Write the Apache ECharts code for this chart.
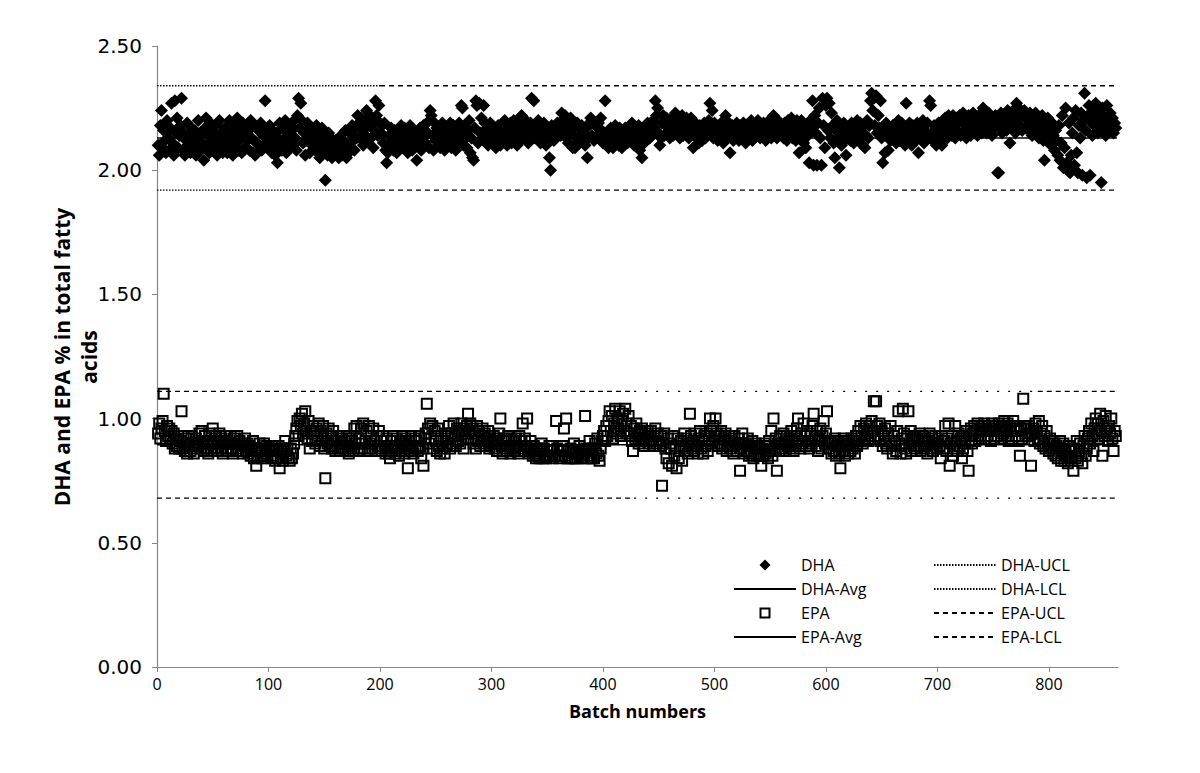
<!DOCTYPE html>
<html><head><meta charset="utf-8">
<script src="https://cdn.jsdelivr.net/npm/echarts@6/dist/echarts.min.js"></script>
<style>html,body{margin:0;padding:0;background:#fff}#c{width:1200px;height:773px}</style>
</head><body><div id="c"></div>
<script>
// DHA % per batch (batches 1..860)
const dhaValues = [
2.10,2.06,2.18,2.24,2.09,2.16,2.12,2.07,2.20,2.13,2.08,2.17,2.27,2.11,2.06,2.28,2.15,2.21,2.09,2.14,
2.18,2.29,2.08,2.15,2.06,2.12,2.19,2.10,2.14,2.07,2.17,2.11,2.09,2.16,2.06,2.13,2.20,2.10,2.08,2.15,
2.11,2.04,2.17,2.21,2.09,2.14,2.07,2.19,2.12,2.16,2.08,2.13,2.18,2.06,2.11,2.20,2.09,2.15,2.07,2.13,
2.17,2.09,2.07,2.13,2.20,2.10,2.15,2.06,2.11,2.18,2.13,2.21,2.08,2.12,2.16,2.07,2.19,2.14,2.09,2.17,
2.12,2.16,2.08,2.20,2.13,2.07,2.18,2.06,2.11,2.07,2.16,2.10,2.19,2.08,2.14,2.17,2.28,2.11,2.15,2.09,
2.18,2.13,2.07,2.16,2.11,2.06,2.15,2.03,2.09,2.19,2.12,2.08,2.17,2.10,2.20,2.07,2.14,2.09,2.18,2.12,
2.16,2.10,2.20,2.13,2.08,2.22,2.29,2.17,2.27,2.20,2.11,2.15,2.06,2.12,2.19,2.14,2.07,2.17,2.10,2.15,
2.13,2.08,2.18,2.11,2.15,2.05,2.09,2.17,2.07,2.13,1.96,2.11,2.06,2.15,2.09,2.13,2.05,2.10,2.07,2.12,
2.07,2.11,2.05,2.09,2.14,2.06,2.12,2.08,2.16,2.05,2.10,2.07,2.15,2.09,2.18,2.12,2.08,2.17,2.13,2.22,
2.19,2.13,2.21,2.16,2.10,2.20,2.14,2.24,2.12,2.18,2.22,2.13,2.19,2.09,2.16,2.28,2.22,2.14,2.26,2.19,
2.15,2.18,2.11,2.19,2.08,2.03,2.07,2.14,2.10,2.17,2.12,2.08,2.16,2.11,2.07,2.15,2.09,2.13,2.18,2.09,
2.13,2.17,2.10,2.15,2.07,2.12,2.18,2.13,2.08,2.16,2.11,2.15,2.04,2.10,2.13,2.17,2.08,2.12,2.18,2.14,
2.11,2.19,2.15,2.09,2.24,2.22,2.14,2.08,2.19,2.12,2.17,2.10,2.14,2.09,2.16,2.19,2.12,2.08,2.17,2.14,
2.11,2.16,2.19,2.09,2.14,2.18,2.12,2.08,2.16,2.11,2.19,2.14,2.26,2.25,2.10,2.17,2.13,2.09,2.16,2.20,
2.07,2.13,2.05,2.04,2.17,2.28,2.26,2.11,2.27,2.15,2.21,2.13,2.26,2.19,2.12,2.17,2.10,2.15,2.19,2.13,
2.17,2.12,2.15,2.09,2.11,2.18,2.14,2.10,2.16,2.19,2.12,2.20,2.15,2.10,2.17,2.13,2.19,2.11,2.15,2.20,
2.13,2.17,2.10,2.15,2.20,2.12,2.22,2.15,2.18,2.13,2.20,2.16,2.11,2.15,2.19,2.29,2.16,2.28,2.13,2.18,
2.15,2.20,2.12,2.11,2.17,2.14,2.19,2.15,2.10,2.17,2.13,2.05,2.00,2.18,2.15,2.12,2.17,2.14,2.19,2.15,
2.19,2.14,2.23,2.20,2.16,2.22,2.13,2.19,2.11,2.16,2.21,2.15,2.09,2.18,2.09,2.13,2.19,2.11,2.17,2.14,
2.18,2.12,2.15,2.10,2.17,2.05,2.13,2.19,2.21,2.14,2.20,2.12,2.18,2.19,2.14,2.19,2.13,2.21,2.16,2.11,
2.15,2.28,2.13,2.10,2.09,2.12,2.17,2.11,2.09,2.14,2.18,2.12,2.16,2.10,2.17,2.13,2.09,2.15,2.12,2.17,
2.14,2.11,2.17,2.15,2.12,2.19,2.13,2.10,2.17,2.15,2.12,2.18,2.08,2.14,2.05,2.17,2.11,2.16,2.12,2.19,
2.16,2.13,2.19,2.14,2.20,2.17,2.28,2.22,2.25,2.15,2.10,2.13,2.19,2.22,2.14,2.18,2.21,2.15,2.20,2.13,
2.17,2.21,2.14,2.19,2.23,2.15,2.18,2.21,2.13,2.17,2.22,2.14,2.20,2.16,2.21,2.18,2.13,2.17,2.21,2.15,
2.09,2.15,2.19,2.13,2.17,2.11,2.18,2.14,2.12,2.17,2.19,2.13,2.18,2.15,2.20,2.27,2.16,2.24,2.13,2.19,
2.14,2.18,2.12,2.16,2.13,2.19,2.15,2.11,2.18,2.22,2.16,2.13,2.19,2.07,2.15,2.18,2.12,2.17,2.13,2.19,
2.15,2.12,2.18,2.13,2.16,2.19,2.14,2.11,2.18,2.13,2.17,2.15,2.20,2.12,2.16,2.13,2.18,2.15,2.20,2.16,
2.13,2.18,2.15,2.19,2.16,2.12,2.18,2.14,2.20,2.16,2.13,2.19,2.22,2.14,2.17,2.13,2.20,2.16,2.19,2.14,
2.17,2.13,2.19,2.16,2.12,2.20,2.14,2.18,2.21,2.13,2.19,2.16,2.12,2.20,2.17,2.07,2.15,2.20,2.13,2.11,
2.16,2.09,2.18,2.14,2.03,2.20,2.17,2.28,2.02,2.22,2.15,2.02,2.19,2.25,2.13,2.02,2.29,2.18,2.09,2.26,
2.29,2.16,2.27,2.13,2.23,2.18,2.11,2.05,2.16,2.20,2.13,2.01,2.18,2.10,2.15,2.19,2.12,2.06,2.17,2.13,
2.16,2.12,2.19,2.14,2.11,2.18,2.13,2.20,2.16,2.12,2.19,2.15,2.10,2.18,2.09,2.14,2.20,2.13,2.18,2.28,
2.31,2.24,2.29,2.18,2.30,2.15,2.22,2.17,2.28,2.13,2.03,2.16,2.07,2.19,2.14,2.08,2.17,2.12,2.15,2.18,
2.13,2.18,2.11,2.16,2.20,2.12,2.15,2.19,2.13,2.17,2.10,2.27,2.16,2.12,2.19,2.14,2.10,2.18,2.13,2.16,
2.12,2.19,2.07,2.15,2.18,2.13,2.20,2.11,2.16,2.13,2.19,2.14,2.28,2.26,2.15,2.12,2.18,2.13,2.10,2.15,
2.19,2.12,2.16,2.10,2.20,2.14,2.21,2.17,2.13,2.22,2.16,2.20,2.14,2.22,2.17,2.13,2.21,2.15,2.19,2.22,
2.14,2.20,2.23,2.16,2.21,2.13,2.19,2.22,2.17,2.14,2.20,2.23,2.15,2.21,2.18,2.14,2.22,2.17,2.20,2.15,
2.25,2.18,2.22,2.15,2.20,2.23,2.17,2.21,2.14,2.19,2.17,2.22,2.19,1.99,1.99,2.18,2.23,2.15,2.21,2.18,
2.22,2.16,2.24,2.19,2.11,2.23,2.17,2.24,2.20,2.15,2.27,2.21,2.25,2.18,2.23,2.16,2.22,2.24,2.17,2.22,
2.20,2.16,2.23,2.18,2.14,2.22,2.17,2.23,2.15,2.20,2.13,2.19,2.16,2.22,2.12,2.04,2.18,2.14,2.21,2.11,
2.17,2.10,2.19,2.14,2.08,2.16,2.12,2.06,2.18,2.04,2.11,2.22,2.01,2.09,2.25,2.03,2.00,2.19,1.99,2.06,
2.15,2.21,2.02,2.24,2.07,1.99,2.18,2.13,2.23,1.98,2.20,2.31,2.16,1.97,2.22,2.26,1.98,2.19,2.14,2.24,
2.18,2.27,2.21,2.15,2.23,2.19,1.95,2.25,2.17,2.21,2.14,2.26,2.20,2.16,2.23,2.18,2.21,2.15,2.19,2.17
];
// EPA % per batch (batches 1..860)
const epaValues = [
0.94,0.98,0.92,0.96,0.99,1.10,0.95,0.91,0.97,0.93,0.96,0.92,0.95,0.90,0.94,0.88,0.92,0.89,0.93,0.88,
0.91,1.03,0.88,0.93,0.87,0.90,0.86,0.92,0.89,0.87,0.93,0.90,0.86,0.89,0.92,0.88,0.90,0.94,0.88,0.95,
0.90,0.87,0.93,0.88,0.91,0.86,0.94,0.90,0.87,0.96,0.91,0.88,0.93,0.87,0.90,0.94,0.88,0.92,0.86,0.90,
0.93,0.88,0.91,0.87,0.90,0.93,0.88,0.86,0.92,0.90,0.87,0.93,0.88,0.91,0.87,0.90,0.86,0.89,0.92,0.87,
0.90,0.86,0.89,0.85,0.88,0.91,0.84,0.88,0.81,0.84,0.87,0.90,0.85,0.88,0.84,0.90,0.86,0.89,0.85,0.88,
0.87,0.84,0.89,0.85,0.88,0.83,0.87,0.84,0.89,0.80,0.86,0.88,0.83,0.87,0.91,0.85,0.88,0.84,0.83,0.88,
0.84,0.86,0.90,0.93,0.96,0.99,0.93,1.00,0.97,1.02,0.94,0.98,1.03,0.95,0.92,0.99,0.88,0.95,0.91,0.97,
0.94,0.90,0.96,0.92,0.98,0.89,0.95,0.91,0.97,0.88,0.76,0.94,0.90,0.96,0.89,0.93,0.88,0.95,0.91,0.87,
0.91,0.88,0.93,0.87,0.90,0.92,0.88,0.91,0.87,0.93,0.89,0.86,0.92,0.88,0.91,0.87,0.96,0.90,0.97,0.88,
0.92,0.87,0.96,0.90,0.98,0.88,0.91,0.95,0.87,0.97,0.90,0.93,0.88,0.96,0.91,0.87,0.93,0.89,0.95,0.88,
0.91,0.87,0.93,0.89,0.86,0.92,0.88,0.86,0.84,0.91,0.87,0.93,0.89,0.86,0.92,0.88,0.85,0.91,0.87,0.93,
0.90,0.86,0.92,0.88,0.80,0.91,0.87,0.93,0.89,0.86,0.92,0.88,0.91,0.87,0.93,0.89,0.84,0.88,0.81,0.92,
0.94,1.06,0.96,0.90,0.98,0.92,0.97,0.88,0.95,0.91,0.87,0.96,0.89,0.86,0.93,0.88,0.91,0.86,0.94,0.89,
0.92,0.97,0.88,0.94,0.90,0.98,0.93,0.89,0.96,0.91,0.95,0.90,0.98,0.94,0.88,0.96,0.92,0.97,1.02,0.95,
0.98,0.92,0.96,0.90,0.94,0.88,0.97,0.91,0.95,0.89,0.93,0.96,0.90,0.94,0.89,0.92,0.95,0.88,0.93,0.90,
0.90,0.93,0.88,0.92,0.87,0.91,0.94,1.00,0.89,0.86,0.92,0.88,0.91,0.87,0.93,0.89,0.86,0.92,0.88,0.91,
0.87,0.92,0.89,0.86,0.93,0.88,0.91,0.98,0.87,0.92,0.89,1.00,0.88,0.86,0.91,0.87,0.85,0.89,0.86,0.84,
0.88,0.85,0.84,0.87,0.90,0.84,0.88,0.85,0.84,0.87,0.85,0.89,0.85,0.89,0.84,0.87,0.85,0.99,0.88,0.85,
0.84,0.87,0.85,0.89,0.96,0.85,1.00,0.84,0.87,0.84,0.88,0.84,0.86,0.90,0.84,0.87,0.84,0.86,0.89,0.85,
0.87,0.84,0.86,1.01,0.88,0.84,0.87,0.91,0.85,0.84,0.88,0.84,0.90,0.86,0.92,0.85,0.83,0.88,0.91,0.93,
0.95,0.91,0.97,0.93,0.99,1.03,0.95,1.01,0.92,0.98,1.04,0.94,1.00,0.96,1.03,0.93,0.99,1.02,0.95,1.04,
0.98,0.94,1.01,0.93,0.97,0.91,0.87,0.96,0.92,0.98,0.94,0.90,0.95,0.91,0.96,0.92,0.89,0.94,0.91,0.95,
0.93,0.90,0.95,0.91,0.89,0.93,0.96,0.90,0.94,0.91,0.89,0.93,0.73,0.90,0.94,0.88,0.84,0.92,0.82,0.90,
0.88,0.81,0.93,0.85,0.89,0.80,0.92,0.84,0.87,0.91,0.83,0.89,0.94,0.87,0.92,0.86,0.90,1.02,0.93,0.88,
0.91,0.87,0.94,0.89,0.86,0.92,0.95,0.88,0.91,0.86,0.93,0.89,0.94,0.87,0.92,1.00,0.95,0.90,0.97,0.93,
1.00,0.94,0.89,0.93,0.90,0.95,0.88,0.92,0.89,0.94,0.87,0.91,0.93,0.88,0.92,0.89,0.86,0.93,0.90,0.87,
0.90,0.92,0.79,0.88,0.94,0.90,0.86,0.90,0.87,0.92,0.85,0.89,0.86,0.91,0.84,0.88,0.90,0.85,0.89,0.86,
0.85,0.81,0.88,0.85,0.90,0.86,0.89,0.84,0.91,0.87,0.95,0.85,1.00,0.88,0.92,0.79,0.90,0.87,0.93,0.90,
0.88,0.94,0.90,0.87,0.93,0.89,0.92,0.88,0.95,0.90,0.87,0.93,0.89,0.96,1.00,0.91,0.88,0.94,0.90,0.98,
0.93,0.89,0.95,0.91,0.88,0.94,0.90,0.97,1.02,0.92,0.89,0.95,0.87,0.92,0.96,0.88,0.93,0.99,0.90,0.94,
1.03,0.91,0.88,0.91,0.86,0.90,0.87,0.92,0.85,0.89,0.91,0.86,0.80,0.90,0.87,0.92,0.85,0.89,0.91,0.86,
0.90,0.87,0.92,0.88,0.91,0.86,0.93,0.89,0.95,0.91,0.97,0.93,0.90,0.96,0.92,0.98,0.94,0.91,0.97,0.93,
0.99,0.95,1.07,0.92,1.07,0.97,0.93,0.98,0.91,0.95,0.89,0.93,0.96,0.90,0.88,0.94,0.91,0.97,0.89,0.86,
0.93,0.90,0.87,0.95,1.03,0.89,0.86,0.92,1.04,0.94,0.88,0.86,0.93,1.03,0.90,0.95,0.87,0.92,0.89,0.93,
0.88,0.92,0.89,0.94,0.87,0.91,0.93,0.88,0.92,0.89,0.86,0.91,0.94,0.88,0.92,0.87,0.90,0.93,0.90,0.88,
0.92,0.89,0.84,0.93,0.88,0.91,0.97,0.87,0.92,0.98,0.81,0.90,0.93,0.85,0.88,0.97,0.91,0.87,0.94,0.89,
0.92,0.84,0.88,0.93,0.90,0.95,0.87,0.79,0.93,0.96,0.90,0.94,0.97,0.91,0.95,0.98,0.92,0.96,0.93,0.97,
0.95,0.98,0.92,0.96,0.93,0.97,0.95,0.91,0.98,0.96,0.92,0.97,0.95,0.93,0.98,0.96,0.92,0.97,0.94,0.99,
0.96,0.93,0.98,0.91,0.97,0.95,0.92,0.99,0.96,0.93,0.97,0.95,0.91,0.85,0.96,0.92,1.08,0.97,0.93,0.96,
0.93,0.97,0.94,0.81,0.94,0.96,0.91,0.98,0.95,0.92,0.99,0.90,0.94,0.97,0.89,0.93,0.88,0.95,0.90,0.87,
0.92,0.88,0.91,0.86,0.90,0.85,0.89,0.84,0.88,0.91,0.83,0.87,0.90,0.83,0.88,0.85,0.82,0.89,0.84,0.87,
0.84,0.79,0.88,0.84,0.91,0.83,0.87,0.90,0.85,0.82,0.89,0.93,0.85,0.88,0.92,0.95,0.90,0.98,0.93,0.87,
0.96,1.00,0.94,0.98,0.92,1.02,0.95,0.85,0.99,0.93,1.01,0.96,0.91,0.97,0.94,1.00,0.92,0.87,0.95,0.93
];
// Control-chart levels
const dhaAvg = 2.13, dhaUCL = 2.34, dhaLCL = 1.92;
const epaAvg = 0.895, epaUCL = 1.11, epaLCL = 0.68;
const batchStart = 0, batchEnd = 861;
const xTicks = [0, 100, 200, 300, 400, 500, 600, 700, 800];
// batch numbers where the printed limit lines change their dash look
const dhaLimitBreak = 200;
const epaLimitBreaks = [428, 790];

const dhaData = dhaValues.map((v, i) => [i + 1, v]);
const epaData = epaValues.map((v, i) => [i + 1, v]);

const FONT = '"Open Sans", "Noto Sans", sans-serif';
const DOTTED = [1.5, 1.5];
const DASHED = [5, 4];
const SPARSE = [2, 9];
const NOFILL = 'rgba(0,0,0,0)';
// legend icons: a small marker centred in the 62x11 legend icon box
const DIAMOND_ICON = 'path://M0,0M62,11M31,0L36.5,5.5L31,11L25.5,5.5Z';
const SQUARE_ICON = 'path://M0,0M62,11M26.5,1L35.5,1L35.5,10L26.5,10Z';

function hline(name, y, x0, x1, dash, width) {
  return {
    name: name, type: 'line', data: [[x0, y], [x1, y]], symbol: 'none',
    silent: true, animation: false,
    itemStyle: { color: NOFILL, borderWidth: 0 },
    lineStyle: { color: '#000', width: width || 1.3, type: dash }
  };
}

const legendCommon = {
  orient: 'vertical', top: 557, padding: 0, itemWidth: 62, itemHeight: 11, itemGap: 8,
  textStyle: { fontFamily: FONT, fontSize: 16, color: '#000' }
};

const chart = echarts.init(document.getElementById('c'), null, { renderer: 'svg' });
chart.setOption({
  animation: false,
  backgroundColor: '#fff',
  grid: { left: 157, right: 82, top: 46, bottom: 106 },
  xAxis: {
    type: 'value', min: 0, max: 862, interval: 100,
    name: 'Batch numbers', nameLocation: 'middle', nameGap: 35,
    nameTextStyle: { fontFamily: FONT, fontWeight: 'bold', fontSize: 18, color: '#000' },
    axisLine: { lineStyle: { color: '#868686', width: 1.2 } },
    axisTick: { customValues: xTicks, length: 5, lineStyle: { color: '#868686' } },
    axisLabel: { customValues: xTicks, fontFamily: FONT, fontSize: 16, color: '#000', margin: 9 },
    splitLine: { show: false }
  },
  yAxis: {
    type: 'value', min: 0, max: 2.5, interval: 0.5,
    axisLine: { show: true, lineStyle: { color: '#868686', width: 1.2 } },
    axisTick: { show: true, length: 5, lineStyle: { color: '#868686' } },
    axisLabel: { fontFamily: '"DejaVu Sans", sans-serif', fontSize: 20, color: '#000', margin: 15,
      formatter: v => v.toFixed(2) },
    splitLine: { show: false }
  },
  legend: [
    Object.assign({ left: 733, data: [
      { name: 'DHA', icon: DIAMOND_ICON, itemStyle: { color: '#000', borderWidth: 0 } },
      'DHA-Avg',
      { name: 'EPA', icon: SQUARE_ICON, itemStyle: { color: NOFILL, borderColor: '#000', borderWidth: 2 } },
      'EPA-Avg'] }, legendCommon),
    Object.assign({ left: 933, data: ['DHA-UCL', 'DHA-LCL', 'EPA-UCL', 'EPA-LCL'] }, legendCommon)
  ],
  graphic: [{
    type: 'text', x: 75, y: 357, rotation: Math.PI / 2,
    style: { text: 'DHA and EPA % in total fatty\nacids', fill: '#000',
      font: 'bold 21px "Open Sans", "Noto Sans", sans-serif', align: 'center', verticalAlign: 'middle', lineHeight: 27 }
  }],
  series: [
    { name: 'DHA', type: 'scatter', data: dhaData, symbol: 'diamond', symbolSize: 13,
      itemStyle: { color: '#000', opacity: 1 } },
    hline('DHA-Avg', dhaAvg, batchStart, batchEnd, 'solid', 1.5),
    { name: 'EPA', type: 'scatter', data: epaData, symbol: 'rect', symbolSize: 10,
      itemStyle: { color: NOFILL, borderColor: '#000', borderWidth: 2, opacity: 1 } },
    hline('EPA-Avg', epaAvg, batchStart, batchEnd, 'solid', 1.5),
    hline('DHA-UCL', dhaUCL, batchStart, dhaLimitBreak, DOTTED),
    hline('DHA-UCL', dhaUCL, dhaLimitBreak, batchEnd, DASHED),
    hline('DHA-LCL', dhaLCL, batchStart, dhaLimitBreak, DOTTED),
    hline('DHA-LCL', dhaLCL, dhaLimitBreak, batchEnd, DASHED),
    hline('EPA-UCL', epaUCL, batchStart, epaLimitBreaks[0], DASHED),
    hline('EPA-UCL', epaUCL, epaLimitBreaks[0], epaLimitBreaks[1], SPARSE),
    hline('EPA-UCL', epaUCL, epaLimitBreaks[1], batchEnd, DASHED),
    hline('EPA-LCL', epaLCL, batchStart, epaLimitBreaks[0], DASHED),
    hline('EPA-LCL', epaLCL, epaLimitBreaks[0], epaLimitBreaks[1], SPARSE),
    hline('EPA-LCL', epaLCL, epaLimitBreaks[1], batchEnd, DASHED)
  ]
});
</script>
</body></html>
